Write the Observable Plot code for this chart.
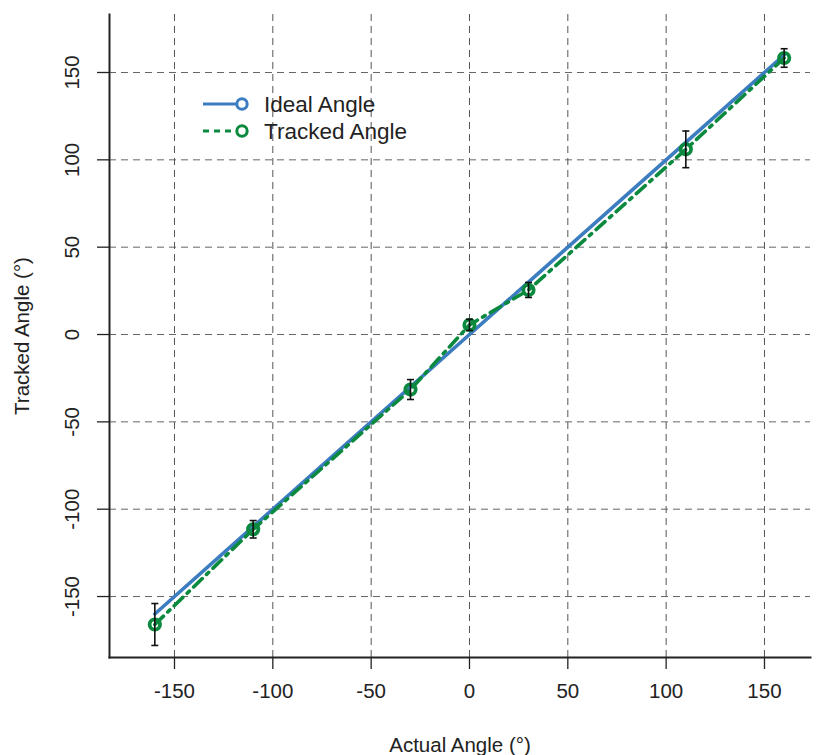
<!DOCTYPE html>
<html>
<head>
<meta charset="utf-8">
<script src="https://cdn.jsdelivr.net/npm/d3@7"></script>
<script src="https://cdn.jsdelivr.net/npm/@observablehq/plot@0.6"></script>
<style>
  html, body { margin: 0; padding: 0; background: #fff; }
  #wrap { position: relative; width: 817px; height: 755px; font-family: "Liberation Sans", Arial, sans-serif; }
  #legend { position: absolute; left: 0; top: 0; pointer-events: none; }
</style>
</head>
<body>
<div id="wrap"></div>
<script>
// Data
const actual = [-160, -110, -30, 0, 30, 110, 160];
const tracked = [-166, -111.5, -31.5, 5.5, 25.5, 106, 158.3];
const errors = [12, 5, 5.7, 3.2, 4.3, 10.5, 5.3];
const xTicks = [-150, -100, -50, 0, 50, 100, 150];
const yTicks = [-150, -100, -50, 0, 50, 100, 150];
const xLabel = "Actual Angle (°)";
const yLabel = "Tracked Angle (°)";
const seriesNames = ["Ideal Angle", "Tracked Angle"];

const blue = "#3b7dc0";
const green = "#0b8a3f";

const ideal = actual.map(a => ({x: a, y: a}));
const rows = actual.map((a, i) => ({x: a, y: tracked[i], lo: tracked[i] - errors[i], hi: tracked[i] + errors[i]}));

const capSymbol = {
  draw(context, size) {
    const h = Math.sqrt(size / Math.PI);
    context.moveTo(-h, 0);
    context.lineTo(h, 0);
  }
};

const FS = 20.5;

const plot = Plot.plot({
  width: 817,
  height: 755,
  marginLeft: 109,
  marginRight: 7,
  marginTop: 14,
  marginBottom: 98,
  style: {fontFamily: "Liberation Sans, Arial, sans-serif", fontSize: "20px", color: "#222", background: "#fff"},
  x: {domain: [-183.05, 173.4], axis: null},
  y: {domain: [-184.9, 183.2], axis: null},
  marks: [
    Plot.ruleX(xTicks, {stroke: "#555", strokeWidth: 1, strokeDasharray: "7,5"}),
    Plot.ruleY(yTicks, {stroke: "#666", strokeWidth: 1, strokeDasharray: "7,5"}),
    Plot.axisX({ticks: xTicks, tickSize: 12, tickFormat: () => "", label: null, stroke: "#222", strokeWidth: 1.3}),
    Plot.axisY({ticks: yTicks, tickSize: 12, tickFormat: () => "", label: null, stroke: "#222", strokeWidth: 1.3}),
    Plot.frame({anchor: "left", stroke: "#222", strokeWidth: 2}),
    Plot.frame({anchor: "bottom", stroke: "#222", strokeWidth: 2}),
    Plot.text(xTicks, {x: d => d, frameAnchor: "bottom", dy: 34, text: d => String(d), fontSize: FS, fill: "#222", textAnchor: "middle", lineAnchor: "middle"}),
    Plot.text(yTicks, {y: d => d, frameAnchor: "left", dx: -37, rotate: -90, text: d => String(d), fontSize: FS, fill: "#222", textAnchor: "middle", lineAnchor: "middle"}),
    Plot.text([xLabel], {frameAnchor: "bottom", dy: 88, text: d => d, fontSize: FS, fill: "#222", textAnchor: "middle", lineAnchor: "middle"}),
    Plot.text([yLabel], {frameAnchor: "left", dx: -87, rotate: -90, text: d => d, fontSize: FS, fill: "#222", textAnchor: "middle", lineAnchor: "middle"}),
    Plot.line(ideal, {x: "x", y: "y", stroke: blue, strokeWidth: 3.6}),
    Plot.line(rows, {x: "x", y: "y", stroke: green, strokeWidth: 3.6, strokeDasharray: "12,6,3,6"}),
    Plot.dot(rows, {x: "x", y: "y", r: 5.2, stroke: green, strokeWidth: 3.8, fill: "none"}),
    Plot.ruleX(rows, {x: "x", y1: "lo", y2: "hi", stroke: "#111", strokeWidth: 1.6}),
    Plot.dot(rows, {x: "x", y: "lo", r: 3.5, symbol: capSymbol, stroke: "#111", strokeWidth: 1.6}),
    Plot.dot(rows, {x: "x", y: "hi", r: 3.5, symbol: capSymbol, stroke: "#111", strokeWidth: 1.6})
  ]
});

const wrap = document.getElementById("wrap");
wrap.appendChild(plot);

// Legend overlay
const ns = "http://www.w3.org/2000/svg";
const leg = document.createElementNS(ns, "svg");
leg.setAttribute("id", "legend");
leg.setAttribute("width", 817);
leg.setAttribute("height", 755);
const items = [
  {name: seriesNames[0], color: blue, dash: null, y: 104},
  {name: seriesNames[1], color: green, dash: "6,5", y: 131}
];
items.forEach(it => {
  const line = document.createElementNS(ns, "line");
  line.setAttribute("x1", 203); line.setAttribute("x2", 236);
  line.setAttribute("y1", it.y); line.setAttribute("y2", it.y);
  line.setAttribute("stroke", it.color); line.setAttribute("stroke-width", 3);
  if (it.dash) line.setAttribute("stroke-dasharray", it.dash);
  leg.appendChild(line);
  const c = document.createElementNS(ns, "circle");
  c.setAttribute("cx", 242); c.setAttribute("cy", it.y); c.setAttribute("r", 5.2);
  c.setAttribute("fill", "none"); c.setAttribute("stroke", it.color); c.setAttribute("stroke-width", 3);
  leg.appendChild(c);
  const t = document.createElementNS(ns, "text");
  t.setAttribute("x", 264); t.setAttribute("y", it.y);
  t.setAttribute("dy", "0.36em");
  t.setAttribute("font-size", 22.5);
  t.setAttribute("font-family", "Liberation Sans, Arial, sans-serif");
  t.setAttribute("fill", "#222");
  t.textContent = it.name;
  leg.appendChild(t);
});
wrap.appendChild(leg);
</script>
</body>
</html>
